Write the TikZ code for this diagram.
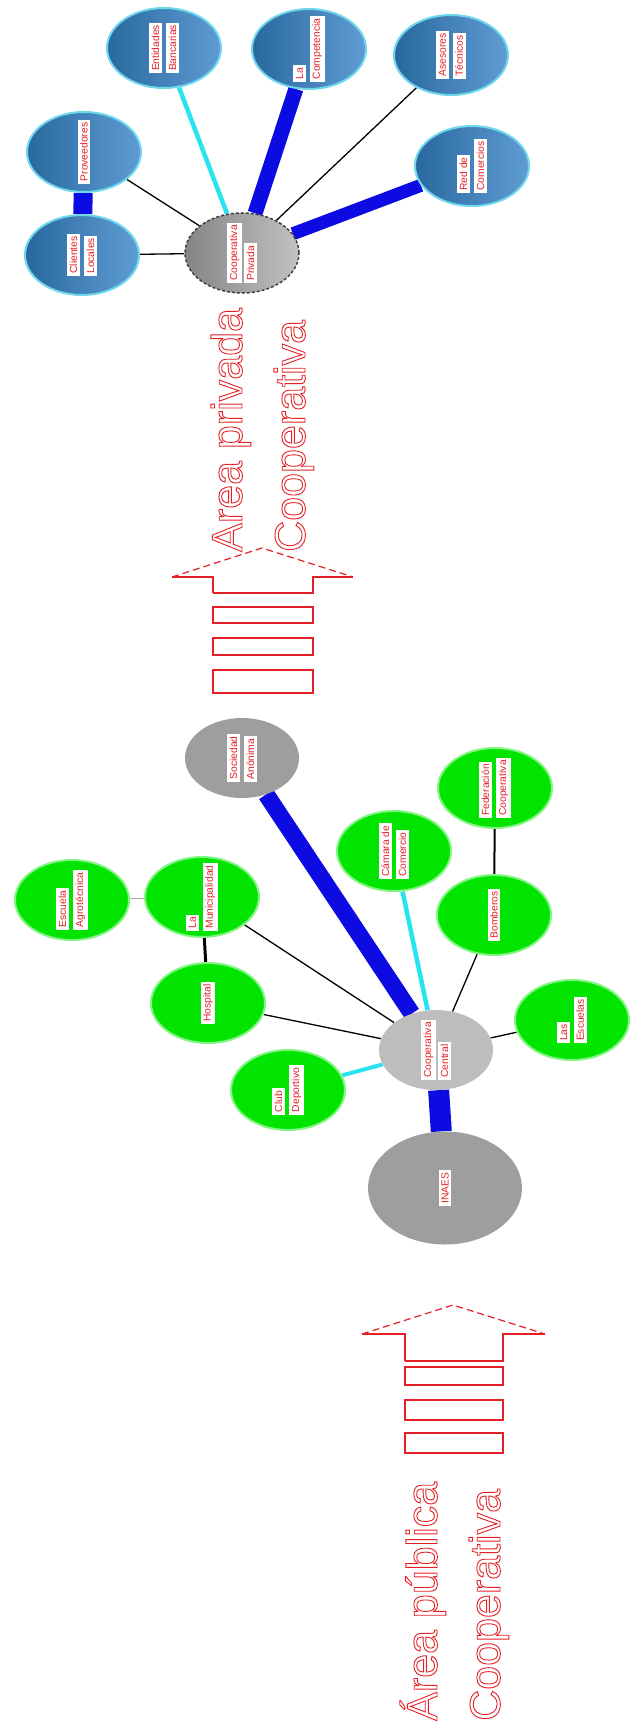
\documentclass[tikz,border=0pt]{standalone}
\usepackage{fontspec}
\setmainfont{Liberation Sans}
\usetikzlibrary{shapes.geometric,backgrounds}
\definecolor{txtred}{RGB}{228,32,38}
\definecolor{lineblue}{RGB}{12,12,226}
\definecolor{linecyan}{RGB}{40,228,240}
\definecolor{nodegreen}{RGB}{0,228,0}
\definecolor{glowgreen}{RGB}{130,245,130}
\definecolor{steel}{RGB}{40,104,158}
\definecolor{steellight}{RGB}{96,156,212}
\definecolor{glowcyan}{RGB}{110,215,235}
\setlength{\fboxsep}{2.5pt}
\newcommand{\wb}[1]{\colorbox{white}{#1}}
\newcommand{\hollow}[1]{\special{pdf:literal direct 1 Tr 0.9 w}#1\special{pdf:literal direct 0 Tr}}
\begin{document}
\begin{tikzpicture}[x=1pt, y=-1pt,
    elli/.style={ellipse, minimum width=114pt, minimum height=80pt, inner sep=0pt},
    bluenode/.style={elli, left color=steel, right color=steellight, draw=glowcyan, line width=2pt},
    greennode/.style={elli, fill=nodegreen, draw=glowgreen, line width=2pt},
    graynode/.style={elli, fill=black!38},
    lbl/.style={rotate=90, font=\fontsize{10.3}{17}\selectfont, text=txtred, align=left, inner sep=0pt},
    big/.style={rotate=90, anchor=base west, inner sep=0pt, text=txtred, font=\fontsize{43}{50}\selectfont},
    weak/.style={draw=black, line width=1.3pt},
    medium/.style={draw=linecyan, line width=4.5pt},
    strong/.style={draw=lineblue, line width=15pt},
    arrowline/.style={draw=txtred, line width=1.2pt},
    arrowhead/.style={arrowline, dash pattern=on 7pt off 4pt}]
    \useasboundingbox (0,0) rectangle (632,1730);

    \node[elli, left color=black!48, right color=black!24, draw=black!75, densely dashed, line width=1.5pt] (p0) at (242,253) {};
    \node[bluenode] (p1) at (82,255) {};
    \node[bluenode] (p2) at (84,152) {};
    \node[bluenode] (p3) at (164,48) {};
    \node[bluenode] (p4) at (309,49) {};
    \node[bluenode] (p5) at (451,55) {};
    \node[bluenode] (p6) at (472,166) {};

    \node[graynode] (s0) at (242,758) {};
    \node[greennode] (c1) at (72,900) {};
    \node[greennode] (c2) at (202,897) {};
    \node[greennode] (c3) at (208,1003) {};
    \node[greennode] (c4) at (288,1090) {};
    \node[greennode] (c5) at (394,851) {};
    \node[greennode] (c6) at (495,788) {};
    \node[greennode] (c7) at (494,915) {};
    \node[greennode] (c8) at (572,1020) {};
    \node[elli, fill=black!26] (c0) at (436,1050) {};
    \node[graynode, minimum width=154pt, minimum height=113pt] (e0) at (445,1188) {};

    \begin{scope}[on background layer]
    \path
    (p1) edge[strong, line width=19pt] (p2)
    (p1) edge[weak] (p0)
    (p2) edge[weak] (p0)
    (p3) edge[medium] (p0)
    (p4) edge[strong] (p0)
    (p5) edge[weak] (p0)
    (p6) edge[strong, line width=13pt] (p0)
    (s0) edge[strong, line width=17pt] (c0)
    (c0) edge[strong, line width=21pt] (e0)
    (c1) edge[draw=black!35, line width=0.8pt] (c2)
    (c2) edge[weak, line width=3pt] (c3)
    (c2) edge[weak] (c0)
    (c3) edge[weak] (c0)
    (c4) edge[medium, line width=4pt] (c0)
    (c5) edge[medium] (c0)
    (c6) edge[weak, line width=2pt] (c7)
    (c7) edge[weak] (c0)
    (c8) edge[weak] (c0);
    \end{scope}

    \node[lbl] at (p0) {\wb{Cooperativa}\\\wb{Privada}};
    \node[lbl] at (p1) {\wb{Clientes}\\\wb{Locales}};
    \node[lbl] at (p2) {\wb{Proveedores}};
    \node[lbl] at (p3) {\wb{Entidades}\\\wb{Bancarias}};
    \node[lbl] at (p4) {\wb{La}\\\wb{Competencia}};
    \node[lbl] at (p5) {\wb{Asesores}\\\wb{Técnicos}};
    \node[lbl] at (p6) {\wb{Red de}\\\wb{Comercios}};
    \node[lbl] at (s0) {\wb{Sociedad}\\\wb{Anónima}};
    \node[lbl] at (c0) {\wb{Cooperativa}\\\wb{Central}};
    \node[lbl] at (e0) {\wb{INAES}};
    \node[lbl] at (c1) {\wb{Escuela}\\\wb{Agrotécnica}};
    \node[lbl] at (c2) {\wb{La}\\\wb{Municipalidad}};
    \node[lbl] at (c3) {\wb{Hospital}};
    \node[lbl] at (c4) {\wb{Club}\\\wb{Deportivo}};
    \node[lbl] at (c5) {\wb{Cámara de}\\\wb{Comercio}};
    \node[lbl] at (c6) {\wb{Federación}\\\wb{Cooperativa}};
    \node[lbl] at (c7) {\wb{Bomberos}};
    \node[lbl] at (c8) {\wb{Las}\\\wb{Escuelas}};

    \draw[arrowline] (213,593) -- (213,577) -- (172,577);
    \draw[arrowhead] (172,577) -- (262,548) -- (353,577);
    \draw[arrowline] (353,577) -- (313,577) -- (313,593) -- (213,593);
    \foreach \a/\b in {607/623, 638/655, 670/693}
        \draw[arrowline] (213,\a) rectangle (313,\b);
    \node[big] (priv1) at (242,552) {\hollow{Area privada}};
    \node[big] (priv2) at (305,552) {\hollow{Cooperativa}};

    \draw[arrowline] (405,1361) -- (405,1334) -- (362,1334);
    \draw[arrowhead] (362,1334) -- (453,1305) -- (545,1334);
    \draw[arrowline] (545,1334) -- (503,1334) -- (503,1361) -- (405,1361);
    \foreach \a/\b in {1367/1385, 1400/1420, 1433/1453}
        \draw[arrowline] (405,\a) rectangle (503,\b);
    \node[big] (pub1) at (437,1721) {\hollow{Área pública}};
    \node[big] (pub2) at (500,1721) {\hollow{Cooperativa}};
\end{tikzpicture}
\end{document}
